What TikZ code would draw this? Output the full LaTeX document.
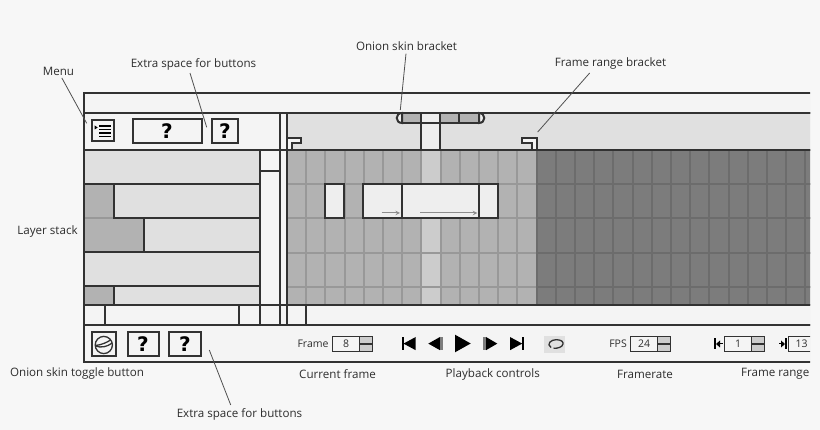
\documentclass[tikz,border=0pt]{standalone}
\usepackage{fontspec}
\setmainfont{Open Sans}
\newfontfamily\qfont{DejaVu Sans}
\begin{document}
\begin{tikzpicture}[x=1pt,y=-1pt,
    panel/.style={draw=linedark,line width=2pt,fill=panelbg},
    cellline/.style={draw=cellgray,line width=2pt},
    callout/.style={font=\fontsize{11.6}{13}\selectfont,text=labeltext,inner sep=1pt},
    leader/.style={draw=leadergray,line width=0.8pt},
    askbtn/.style={draw=linedark,line width=2pt,fill=panelbg,inner sep=0pt,font=\qfont\bfseries\fontsize{20}{20}\selectfont},
    spinlabel/.style={font=\fontsize{10.5}{12}\selectfont,text=labeltext,inner sep=0pt},
    playicon/.style={fill=black}]

% Colors
\definecolor{pagebg}{RGB}{247,247,247}
\definecolor{panelbg}{RGB}{244,244,244}
\definecolor{linedark}{RGB}{50,50,50}
\definecolor{labeltext}{RGB}{45,45,45}
\definecolor{leadergray}{RGB}{80,80,80}
\definecolor{bandgray}{RGB}{224,224,224}
\definecolor{cellmid}{RGB}{178,178,178}
\definecolor{cellcur}{RGB}{204,204,204}
\definecolor{celldark}{RGB}{124,124,124}
\definecolor{cellgray}{RGB}{152,152,152}
\definecolor{celldarkline}{RGB}{108,108,108}
\definecolor{clipfill}{RGB}{238,238,238}
\definecolor{arrowgray}{RGB}{140,140,140}

\useasboundingbox[fill=pagebg] (0,0) rectangle (820,430);

\begin{scope}
\clip (80,88) rectangle (810,370);

% Panels
\fill[panelbg] (84,93) rectangle (815,362);
\draw[panel] (84,93) rectangle (815,113);
\draw[panel] (84,113) rectangle (815,150);
\fill[bandgray] (287,113) rectangle (815,150);

% Frame cells
\foreach \y/\h in {150/34,184/34,218/35,253/34,287/18} {
  \foreach \x in {0,...,12} {
    \filldraw[cellline,fill=cellmid] (287+19.2*\x,\y) rectangle ++(19.2,\h);
  }
  \filldraw[cellline,fill=cellcur] (421.4,\y) rectangle ++(19.2,\h);
  \foreach \x in {13,...,27} {
    \filldraw[draw=celldarkline,line width=2pt,fill=celldark] (287+19.2*\x,\y) rectangle ++(19.2,\h);
  }
}
\draw[panel] (287,150) -- (815,150);
\draw[panel] (287,113) -- (815,113);

% Layer stack
\foreach \y/\h in {150/34,184/34,218/34,252/34,286/19} {
  \filldraw[panel,fill=bandgray] (84,\y) rectangle (260,\y+\h);
}
\filldraw[panel,fill=cellmid] (84,184) rectangle (114,218);
\filldraw[panel,fill=cellmid] (84,218) rectangle (144,252);
\draw[cellline] (85,218) -- (113,218);
\filldraw[panel,fill=cellmid] (84,286) rectangle (114,305);

% Scrollbar
\draw[panel] (260,150) rectangle (280,305);
\draw[panel] (260,171) -- (280,171);
\draw[panel] (280,113) -- (280,325);
\draw[panel] (287,113) -- (287,325);

% Row under the stack
\draw[panel] (84,305) rectangle (815,325);
\foreach \x in {105,239,260,280,287,306} {
  \draw[panel] (\x,305) -- (\x,325);
}

% Bottom panel
\draw[panel,fill=panelbg] (84,325) rectangle (815,362);

% Clips in the frames
\foreach \a/\b in {325/344,363/402,402/479,479/498} {
  \filldraw[panel,fill=clipfill] (\a,184) rectangle (\b,218);
}
\draw[-stealth,arrowgray,line width=1pt] (381.7,213) -- (400,213);
\draw[-stealth,arrowgray,line width=1pt] (420,213) -- (477.3,213);

% Current frame post and onion bracket
\filldraw[panel,fill=clipfill] (421,113) rectangle (440,150);
\foreach \a/\b in {402/421,440/459,459/479} {
  \filldraw[panel,fill=cellmid] (\a,113) rectangle (\b,123);
}
\filldraw[panel,fill=clipfill] (421,113) rectangle (440,123);
\filldraw[panel,fill=clipfill] (402,113) .. controls (395,113) and (395,123) .. (402,123) -- cycle;
\filldraw[panel,fill=clipfill] (479,113) .. controls (486,113) and (486,123) .. (479,123) -- cycle;

% Frame range brackets
\filldraw[panel,fill=panelbg] (287,150) -- (287,138) -- (301,138) -- (301,143) -- (292,143) -- (292,150) -- cycle;
\filldraw[panel,fill=panelbg] (537,150) -- (537,138) -- (522,138) -- (522,143) -- (532,143) -- (532,150) -- cycle;

% Top buttons
\node[draw=linedark,line width=2pt,fill=panelbg,minimum width=22pt,minimum height=21pt,inner sep=0pt] (menubtn) at (103,131) {};
\fill[black] (94.7,125.5) -- (97.7,127.5) -- (94.7,129.5) -- cycle;
\foreach \y in {126,129.5,133,136.5} {
  \draw[line width=1.2pt,black] (99.3,\y) -- (110.7,\y);
}
\node[askbtn,minimum width=69pt,minimum height=24pt] (askwide) at (167,131) {?};
\node[askbtn,minimum width=26pt,minimum height=24pt] (asktop) at (225,131) {?};

% Bottom left buttons
\node[draw=linedark,line width=2pt,fill=panelbg,minimum width=24pt,minimum height=24pt,inner sep=0pt] (onionbtn) at (104,344) {};
\draw[line width=1.3pt,linedark] (103.8,345) circle[radius=8.6];
\draw[line width=1.3pt,linedark] (95.5,345.5) .. controls (101,345) and (107,342.5) .. (110.8,339.8);
\draw[line width=1.3pt,linedark] (95.5,346) .. controls (101,348) and (107,347) .. (112.2,343);
\node[askbtn,minimum width=31pt,minimum height=24pt] (askone) at (143,344) {?};
\node[askbtn,minimum width=32pt,minimum height=24pt] (asktwo) at (185,344) {?};

% Spinners
\foreach \name/\a/\s/\b/\txt in {frame/332.5/359.5/372.5/8,fps/630.5/657.5/670.5/24,first/724.5/751.5/764.5/1} {
  \draw[line width=1.5pt,linedark,fill=panelbg] (\a,336.5) rectangle (\b,351.5);
  \filldraw[line width=1.5pt,draw=linedark,fill=cellcur] (\s,336.5) rectangle (\b,351.5);
  \draw[line width=1.3pt,linedark] (\s,344) -- (\b,344);
  \node[spinlabel] (\name val) at ({(\a+\s)/2},344) {\txt};
}
\draw[line width=1.5pt,linedark,fill=panelbg] (788.5,336.5) rectangle (830,351.5);
\node[spinlabel] (lastval) at (801.7,344) {13};
\node[spinlabel,anchor=east] (framelbl) at (328.7,344) {Frame};
\node[spinlabel,anchor=east] (fpslbl) at (627,344) {FPS};

% Range icons
\fill[black] (714,338.5) rectangle (715.6,349.5);
\fill[black] (716,344) -- (720,340.5) -- (720,347.5) -- cycle;
\draw[black,line width=1pt] (718,344) -- (722.7,344);
\fill[black] (785,338.5) rectangle (786.6,349.5);
\fill[black] (785,344) -- (781,340.5) -- (781,347.5) -- cycle;
\draw[black,line width=1pt] (783,344) -- (779,344);

% Playback icons
\fill[playicon] (401.7,336.7) rectangle (403.5,350.5);
\fill[playicon] (403.5,343.6) -- (415.7,337) -- (415.7,350.2) -- cycle;
\fill[playicon] (428.3,343.6) -- (440,337) -- (440,350.2) -- cycle;
\fill[celldark] (440,337.5) rectangle (442.7,349.7);
\fill[playicon] (455,334.7) -- (470.7,343.5) -- (455,352.3) -- cycle;
\fill[celldark] (483.3,337.5) rectangle (486,349.7);
\fill[playicon] (486,337) -- (497.3,343.6) -- (486,350.2) -- cycle;
\fill[playicon] (510,337) -- (522.2,343.6) -- (510,350.2) -- cycle;
\fill[playicon] (522.2,336.7) rectangle (524,350.5);

% Loop button
\fill[bandgray] (544,336) rectangle (565,352.7);
\draw[line width=1.3pt,linedark] (551,347.5) .. controls (546,344) and (551,339.7) .. (556,339.7) .. controls (561,339.7) and (563.5,341.5) .. (563,344) .. controls (562.5,347) and (558,348.5) .. (553.5,348.3);
\end{scope}

% Labels
\node[callout] (menulbl) at (58.5,71) {Menu};
\node[callout] (extralbl) at (193.5,64) {Extra space for buttons};
\node[callout] (onionlbl) at (406.5,46) {Onion skin bracket};
\node[callout] (rangelbl) at (610.5,63) {Frame range bracket};
\node[callout] (stacklbl) at (47.5,231) {Layer stack};
\node[callout] (togglelbl) at (77,373) {Onion skin toggle button};
\node[callout] (currentlbl) at (337.5,374) {Current frame};
\node[callout] (playlbl) at (492.8,374) {Playback controls};
\node[callout] (ratelbl) at (645,374) {Framerate};
\node[callout,anchor=east] (framerangelbl) at (810.5,374) {Frame range};
\node[callout] (extralowlbl) at (239.5,414) {Extra space for buttons};

% Leader lines
\coordinate (menutip) at (86.7,123.3);
\coordinate (extratip) at (206.7,127.3);
\coordinate (oniontip) at (400.3,110);
\coordinate (rangetip) at (537.7,132);
\coordinate (extralowtip) at (209.3,350);
\draw[leader] (menulbl.south east) ++(-13.5,1.5) coordinate (menufoot) -- (menutip);
\draw[leader] (extralbl.south) ++(-3.5,2) coordinate (extrafoot) -- (extratip);
\draw[leader] (onionlbl.south) ++(-0.5,2) coordinate (onionfoot) -- (oniontip);
\draw[leader] (rangelbl.south west) ++(36,3) coordinate (rangefoot) -- (rangetip);
\draw[leader] (extralowlbl.north) ++(-8.8,-2) coordinate (lowfoot) -- (extralowtip);

\end{tikzpicture}
\end{document}
